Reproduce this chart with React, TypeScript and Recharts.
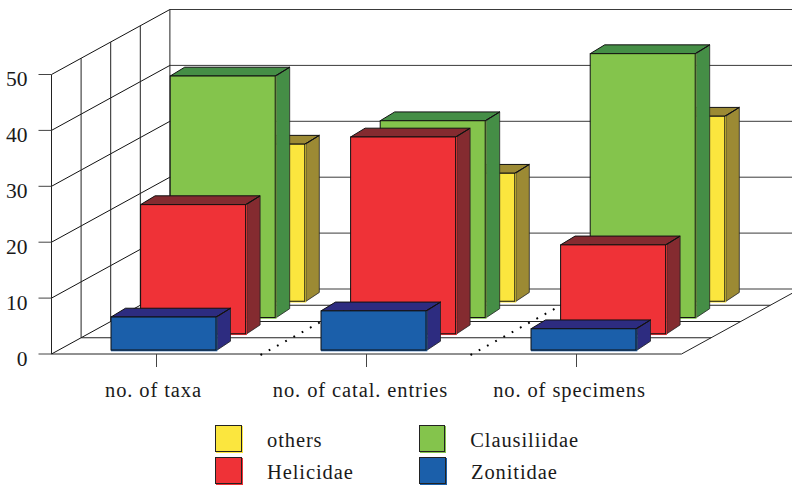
import { Bar, BarChart, Customized, Legend, XAxis, YAxis } from "recharts"

const categories = ["no. of taxa", "no. of catal. entries", "no. of specimens"]
const others = [28.1, 22.9, 33.1]
const clausiliidae = [43.2, 35.2, 47.2]
const helicidae = [23.1, 35.2, 15.9]
const zonitidae = [5.9, 7, 3.8]
const yTicks = [0, 10, 20, 30, 40, 50]

const data = categories.map((name, i) => ({
  name,
  others: others[i],
  clausiliidae: clausiliidae[i],
  helicidae: helicidae[i],
  zonitidae: zonitidae[i],
}))

const WIDTH = 792
const HEIGHT = 485
const FONT = "'Liberation Serif', serif"
const TEXT = "#1a1a1a"

// plot rectangle (the front plane of the box)
const LEFT = 51.5
const RIGHT = 681.5
const TOP = 74.5
const BOTTOM = 354
const UNIT = (BOTTOM - TOP) / 50

// one step back along the floor, there are four of them
const STEP_X = 29.6
const STEP_Y = 16.25
const STEPS = 4

const Backdrop = () => {
  const lines = []
  const wall = "#3a3a3a"
  const backX = LEFT + STEPS * STEP_X
  const backY = STEPS * STEP_Y

  yTicks.forEach((t) => {
    const y = BOTTOM - t * UNIT
    lines.push(<line key={"d" + t} x1={LEFT} y1={y} x2={backX} y2={y - backY} stroke="#111" />)
    lines.push(<line key={"h" + t} x1={backX} y1={y - backY} x2={WIDTH} y2={y - backY} stroke={wall} />)
  })
  for (let k = 1; k <= STEPS; k++) {
    const x = LEFT + k * STEP_X
    const y = BOTTOM - k * STEP_Y
    lines.push(<line key={"v" + k} x1={x} y1={y} x2={x} y2={y - 50 * UNIT} stroke="#222" />)
    if (k < STEPS) {
      lines.push(<line key={"f" + k} x1={x} y1={y} x2={RIGHT + k * STEP_X} y2={y} stroke="#222" />)
    }
  }
  // right edge of the floor and front edge
  lines.push(<line key="re" x1={RIGHT} y1={BOTTOM} x2={RIGHT + STEPS * STEP_X} y2={BOTTOM - backY} stroke="#222" />)
  lines.push(<line key="fe" x1={LEFT} y1={BOTTOM} x2={RIGHT} y2={BOTTOM} stroke="#222" />)

  // dotted lines on the floor between the groups
  const band = (RIGHT - LEFT) / categories.length
  for (let i = 1; i < categories.length; i++) {
    const x = LEFT + i * band - 1
    lines.push(
      <line
        key={"s" + i}
        x1={x}
        y1={BOTTOM + 1}
        x2={x + STEPS * STEP_X}
        y2={BOTTOM + 1 - backY}
        stroke="#000"
        strokeWidth={2}
        strokeDasharray="1.8 7.6"
      />
    )
  }
  return <g>{lines}</g>
}

const bar3d = (level: number, side: string) => (props: any) => {
  const { x, y, width, height, fill } = props
  const x0 = x + 6.5 + level * STEP_X
  const y0 = y - 4 - level * STEP_Y
  const x1 = x0 + width
  const y1 = y0 + height
  const dx = 14.5
  const dy = -8.8
  return (
    <g>
      <polygon
        points={`${x1 + 1.2},${y0} ${x1 + dx},${y0 + dy} ${x1 + dx},${y1 + dy} ${x1 + 1.2},${y1}`}
        fill={side}
        stroke="#222"
        strokeWidth={0.8}
      />
      <polygon
        points={`${x0},${y0} ${x0 + dx},${y0 + dy} ${x1 + dx},${y0 + dy} ${x1},${y0}`}
        fill={side}
        stroke="#111"
      />
      <rect x={x0} y={y0} width={width + 1.3} height={height + 1.3} fill={fill} />
      <rect x={x0} y={y0} width={width} height={height} fill="none" stroke="#111" />
      <line x1={x1} y1={y0} x2={x1 + dx} y2={y0 + dy} stroke="#111" />
    </g>
  )
}

const labelShift = [-3, -6, -7]

const CategoryTick = ({ x, y, payload, index }: any) => (
  <text
    x={x + labelShift[index]}
    y={y + 28}
    textAnchor="middle"
    fontFamily={FONT}
    fontSize={20.5}
    letterSpacing={0.9}
    fill={TEXT}
  >
    {payload.value}
  </text>
)

const LegendBox = ({ payload }: any) => (
  <div
    style={{
      display: "grid",
      gridTemplateColumns: "204px 160px",
      rowGap: 4.5,
      fontFamily: FONT,
      fontSize: 20.5,
      letterSpacing: 0.9,
      color: TEXT,
    }}
  >
    {payload.map((e: any) => (
      <div key={e.value} style={{ display: "flex", alignItems: "center", height: 27.5 }}>
        <span
          style={{
            display: "inline-block",
            width: 27,
            height: 27,
            marginRight: 25,
            background: e.color,
            boxSizing: "border-box",
            border: "1px solid #222",
            boxShadow: `1px 1px 0 ${e.color}`,
          }}
        />
        <span style={{ position: "relative", top: 2 }}>{e.value}</span>
      </div>
    ))}
  </div>
)

export default function App() {
  return (
    <div style={{ position: "absolute", left: 0, top: 0, width: WIDTH, height: HEIGHT, overflow: "hidden", background: "#fff" }}>
      <BarChart
        width={WIDTH}
        height={HEIGHT}
        data={data}
        barSize={105}
        barGap={-105}
        margin={{ top: TOP, right: WIDTH - RIGHT, bottom: 11, left: 0 }}
        style={{ overflow: "hidden" }}
      >
        <Customized component={Backdrop} />
        <XAxis
          dataKey="name"
          height={60}
          tickSize={13}
          axisLine={false}
          tickLine={{ stroke: "#444" }}
          tick={<CategoryTick />}
          interval={0}
        />
        <YAxis
          width={LEFT}
          domain={[0, 50]}
          ticks={yTicks}
          tickSize={13}
          tickMargin={11}
          axisLine={{ stroke: "#222" }}
          tickLine={{ stroke: "#444" }}
          tick={{ fontFamily: FONT, fontSize: 21.5, fill: TEXT, dy: 4 }}
        />
        <Bar dataKey="others" name="others" fill="#FBE63E" shape={bar3d(3, "#9C8A34")} isAnimationActive={false} />
        <Bar dataKey="clausiliidae" name="Clausiliidae" fill="#84C44C" shape={bar3d(2, "#458E46")} isAnimationActive={false} />
        <Bar dataKey="helicidae" name="Helicidae" fill="#EF3237" shape={bar3d(1, "#842B30")} isAnimationActive={false} />
        <Bar dataKey="zonitidae" name="Zonitidae" fill="#1B5FAA" shape={bar3d(0, "#2D2C80")} isAnimationActive={false} />
        <Legend
          verticalAlign="bottom"
          height={60}
          itemSorter={null}
          content={<LegendBox />}
          wrapperStyle={{ left: 215, bottom: 0, width: 370, height: 60 }}
        />
      </BarChart>
    </div>
  )
}
